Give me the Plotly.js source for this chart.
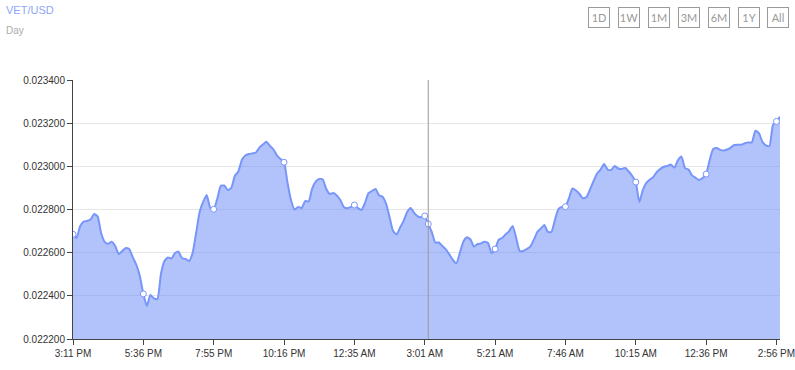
<!DOCTYPE html>
<html>
<head>
<meta charset="utf-8">
<script src="https://cdn.plot.ly/plotly-3.0.1.min.js"></script>
<style>
html,body{margin:0;padding:0;background:#fff;}
#chart{width:795px;height:370px;}
</style>
</head>
<body>
<div id="chart"></div>
<script>
// ---- data ----
const pairTitle = "VET/USD";
const periodLabel = "Day";
const rangeButtons = ["1D", "1W", "1M", "3M", "6M", "1Y", "All"];
const tickLabels = ["3:11 PM", "5:36 PM", "7:55 PM", "10:16 PM", "12:35 AM", "3:01 AM",
                    "5:21 AM", "7:46 AM", "10:15 AM", "12:36 PM", "2:56 PM"];
const pointsPerTick = 20;
const hoverIndex = 101;
const prices = [
 0.022685,0.022668,0.022721,0.022744,0.022747,0.022754,0.022779,0.022768,0.022691,0.022650,
 0.022641,0.022651,0.022631,0.022594,0.022608,0.022622,0.022617,0.022578,0.022544,0.022492,
 0.022409,0.022353,0.022404,0.022388,0.022385,0.022501,0.022561,0.022578,0.022573,0.022598,
 0.022605,0.022574,0.022571,0.022561,0.022598,0.022691,0.022788,0.022835,0.022867,0.022809,
 0.022801,0.022849,0.022909,0.022911,0.022890,0.022900,0.022955,0.022976,0.023029,0.023050,
 0.023057,0.023060,0.023064,0.023087,0.023101,0.023114,0.023094,0.023078,0.023050,0.023034,
 0.023019,0.022923,0.022842,0.022800,0.022812,0.022807,0.022839,0.022837,0.022897,0.022929,
 0.022941,0.022939,0.022895,0.022872,0.022876,0.022865,0.022844,0.022812,0.022806,0.022812,
 0.022821,0.022807,0.022798,0.022830,0.022876,0.022886,0.022895,0.022866,0.022859,0.022827,
 0.022765,0.022700,0.022684,0.022717,0.022747,0.022788,0.022807,0.022784,0.022768,0.022764,
 0.022770,0.022733,0.022696,0.022647,0.022647,0.022631,0.022615,0.022592,0.022566,0.022551,
 0.022601,0.022652,0.022671,0.022661,0.022628,0.022640,0.022643,0.022651,0.022645,0.022598,
 0.022617,0.022659,0.022668,0.022685,0.022700,0.022724,0.022668,0.022608,0.022608,0.022617,
 0.022628,0.022659,0.022696,0.022712,0.022728,0.022696,0.022696,0.022751,0.022802,0.022812,
 0.022813,0.022853,0.022897,0.022888,0.022872,0.022852,0.022858,0.022893,0.022932,0.022967,
 0.022985,0.023011,0.022985,0.022983,0.023002,0.022990,0.022988,0.022992,0.022976,0.022955,
 0.022927,0.022835,0.022890,0.022923,0.022939,0.022951,0.022974,0.022988,0.022998,0.023002,
 0.023008,0.022994,0.023029,0.023045,0.022992,0.022985,0.022958,0.022947,0.022937,0.022946,
 0.022964,0.023029,0.023080,0.023085,0.023076,0.023073,0.023078,0.023087,0.023099,0.023100,
 0.023100,0.023107,0.023111,0.023111,0.023165,0.023154,0.023114,0.023097,0.023094,0.023192,
 0.023208,0.023230
];

// ---- build ----
const xIdx = prices.map((_, i) => i);
const tickVals = tickLabels.map((_, k) => k * pointsPerTick);
const markerX = tickVals.concat([hoverIndex]);
const markerY = markerX.map(i => prices[i]);

const lineColor = "rgb(120,150,250)";

const traces = [
  {
    x: xIdx, y: prices, type: "scatter", mode: "lines",
    line: {color: lineColor, width: 2, shape: "spline", smoothing: 0.5},
    fill: "tozeroy", fillcolor: "rgba(100,135,245,0.5)",
    hoverinfo: "skip"
  },
  {
    x: markerX, y: markerY, type: "scatter", mode: "markers",
    marker: {size: 6, color: "#ffffff", line: {color: lineColor, width: 1}},
    hoverinfo: "skip"
  }
];

const plotL = 73, plotT = 80, plotB = 339, W = 795, H = 370, plotR = 15;
const plotW = W - plotL - plotR, plotH = plotB - plotT;
const px2paperX = px => (px - plotL) / plotW;
const py2paperY = py => (plotB - py) / plotH;

const annotations = [
  {text: pairTitle, xref: "paper", yref: "paper", x: px2paperX(4), y: py2paperY(10),
   xanchor: "left", yanchor: "middle", showarrow: false,
   font: {family: "Liberation Sans, Arial, sans-serif", size: 11, color: "#8ea6f7"}},
  {text: periodLabel, xref: "paper", yref: "paper", x: px2paperX(4), y: py2paperY(31),
   xanchor: "left", yanchor: "middle", showarrow: false,
   font: {family: "Liberation Sans, Arial, sans-serif", size: 10, color: "#aaaaaa"}}
];
const btnCentersPx = [598.5, 628.5, 658.5, 688.5, 718.5, 748.5, 777.5];
rangeButtons.forEach((b, k) => {
  annotations.push({
    text: b, xref: "paper", yref: "paper",
    x: px2paperX(btnCentersPx[k]), y: py2paperY(17),
    xanchor: "center", yanchor: "middle", showarrow: false,
    width: 18, height: 17, align: "center", valign: "middle",
    bordercolor: "#9a9a9a", borderwidth: 1, borderpad: 1,
    font: {family: "Lato, Open Sans, sans-serif", size: 11, color: "#999999"}
  });
});

const layout = {
  width: W, height: H,
  margin: {l: plotL, r: plotR, t: plotT, b: H - plotB, pad: 0},
  paper_bgcolor: "#ffffff", plot_bgcolor: "#ffffff",
  showlegend: false,
  xaxis: {
    range: [0, prices.length - 1],
    tickvals: tickVals, ticktext: tickLabels,
    showgrid: false, zeroline: false,
    showline: true, linecolor: "#444", linewidth: 1,
    ticks: "outside", ticklen: 5, tickcolor: "#444",
    ticklabeloverflow: "allow",
    tickfont: {family: "Liberation Sans, Arial, sans-serif", size: 10, color: "#333"},
    fixedrange: true
  },
  yaxis: {
    range: [0.0222, 0.0234], dtick: 0.0002, tick0: 0.0222, tickformat: ".6f",
    showgrid: true, gridcolor: "#e6e6e6", gridwidth: 1, zeroline: false,
    showline: true, linecolor: "#444", linewidth: 1,
    ticks: "outside", ticklen: 5, tickcolor: "#444",
    tickfont: {family: "Liberation Sans, Arial, sans-serif", size: 10, color: "#333"},
    fixedrange: true
  },
  shapes: [
    {type: "line", xref: "x", yref: "paper", x0: hoverIndex, x1: hoverIndex, y0: 0, y1: 1,
     line: {color: "#999999", width: 1}}
  ],
  annotations: annotations
};

Plotly.newPlot("chart", traces, layout, {displayModeBar: false, staticPlot: true});
</script>
</body>
</html>
